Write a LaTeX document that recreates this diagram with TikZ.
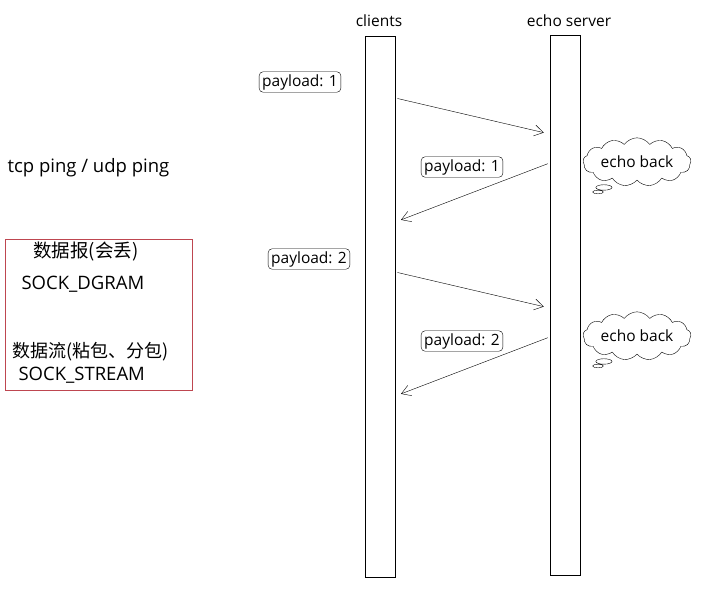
\documentclass[tikz,border=0pt]{standalone}
\usepackage{fontspec}
\setmainfont{Open Sans}
\newfontfamily\cjk{Noto Sans CJK SC}
\usetikzlibrary{arrows.meta,shapes.callouts,shapes.symbols}
\definecolor{boxred}{RGB}{190,70,80}
\tikzset{
  bar/.style={draw,thick,minimum width=30pt,inner sep=0pt},
  msg/.style={-{Straight Barb[length=9pt,width=11pt]},shorten <=2pt,shorten >=6pt},
  tag/.style={draw,rounded corners=4pt,inner xsep=3pt,inner ysep=2.5pt,font=\fontsize{15.5}{17}\selectfont},
  think/.style={draw,cloud callout,cloud puffs=13,cloud puff arc=110,aspect=2.8,inner sep=0pt,minimum width=108pt,minimum height=40pt,font=\fontsize{15.5}{17}\selectfont}
}
\begin{document}
\begin{tikzpicture}[x=1pt,y=-1pt]
\useasboundingbox (0,0) rectangle (722,590);
% the two lifelines
\node[bar,minimum height=541pt] (C) at (380,306.5) {};
\node[bar,minimum height=540pt] (S) at (565,305) {};
\node[font=\fontsize{15.5}{17}\selectfont] (Clbl) at (379,21) {clients};
\node[font=\fontsize{15.5}{17}\selectfont] (Slbl) at (569,21) {echo server};
% request / reply pairs
\foreach \y/\p [count=\n] in {98/1,272/2}
  {
  \draw[msg] (C.east |- 0,\y) -- (S.west |- 0,\y+36);
  \draw[msg] (S.west |- 0,\y+65) -- (C.east |- 0,\y+124);
  \node[tag] (R\n) at (462,\y+69) {payload: \p};
  \node[think,callout absolute pointer={(598,\y+94)}] (E\n) at (637,\y+64) {echo back};
  }
\node[tag] (Q1) at (300,82) {payload: 1};
\node[tag] (Q2) at (309,259) {payload: 2};
% socket types
\node[font=\fontsize{18.5}{20}\selectfont,anchor=west] (T) at (4,168) {tcp ping / udp ping};
\draw[boxred] (5,239) rectangle (192,390);
\node[font=\cjk\fontsize{18.5}{20}\selectfont] (D1) at (86,252) {数据报(会丢)};
\node[font=\fontsize{18.5}{20}\selectfont,anchor=west] (D2) at (18,284) {SOCK\_DGRAM};
\node[font=\cjk\fontsize{18}{20}\selectfont,anchor=west] (F1) at (9,352) {数据流(粘包、分包)};
\node[font=\fontsize{18.5}{20}\selectfont,anchor=west] (F2) at (15,375) {SOCK\_STREAM};
\end{tikzpicture}
\end{document}
